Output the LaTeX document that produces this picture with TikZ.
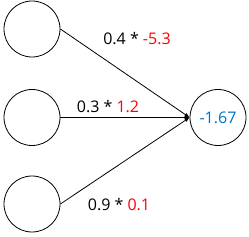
\documentclass[tikz,border=0pt]{standalone}
\usepackage{fontspec}
\setmainfont{Open Sans}
\usetikzlibrary{arrows.meta}
\definecolor{vred}{RGB}{255,0,0}
\definecolor{vblue}{RGB}{0,114,198}
\tikzset{
  neuron/.style={circle,draw,line width=0.8pt,minimum size=56pt,inner sep=0pt},
  conn/.style={line width=0.8pt,-{Latex[length=5pt,width=4pt]}},
  lbl/.style={font=\fontsize{16}{18}\selectfont,inner sep=0pt}
}
\begin{document}
\begin{tikzpicture}[x=1pt,y=1pt]
\useasboundingbox (0,0) rectangle (249,236);
\node[neuron] (a) at (32,207) {};
\node[neuron] (b) at (32,118.5) {};
\node[neuron] (c) at (32,32) {};
\node[neuron,font=\fontsize{16}{18}\selectfont,text=vblue] (o) at (218,118.5) {-1.67};
\draw[conn] (a.east) -- (o.west);
\draw[conn] (b.east) -- (o.west);
\draw[conn] (c.east) -- (o.west);
\node[lbl] (la) at (137,197) {0.4 * \textcolor{vred}{-5.3}};
\node[lbl] (lb) at (108,129) {0.3 * \textcolor{vred}{1.2}};
\node[lbl] (lc) at (119,31) {0.9 * \textcolor{vred}{0.1}};
\end{tikzpicture}
\end{document}
